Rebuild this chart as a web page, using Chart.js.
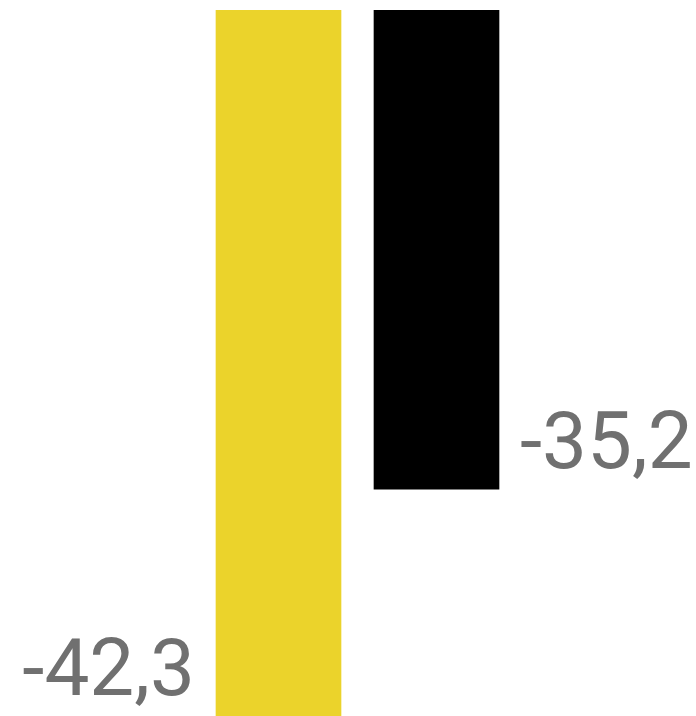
<!DOCTYPE html>
<html>
<head>
<meta charset="utf-8">
<script src="https://cdn.jsdelivr.net/npm/chart.js@4"></script>
<style>
  html, body { margin: 0; padding: 0; background: #ffffff; }
  #wrap { width: 696px; height: 716px; position: relative; }
</style>
</head>
<body>
<div id="wrap"><canvas id="chart"></canvas></div>
<script>
// Two comparison bars, both negative
const categories = ['A', 'B'];
const values = [-42.3, -35.2];
const barColors = ['#EBD32B', '#000000'];
const labelSides = ['left', 'right'];

// Value labels in German decimal notation, drawn at the end of each bar
const valueLabels = {
  id: 'valueLabels',
  afterDatasetsDraw(chart) {
    const ctx = chart.ctx;
    const meta = chart.getDatasetMeta(0);
    ctx.save();
    ctx.font = '80px Roboto, "Liberation Sans", sans-serif';
    ctx.fillStyle = '#707070';
    ctx.textBaseline = 'alphabetic';
    meta.data.forEach((bar, i) => {
      const text = values[i].toFixed(1).replace('.', ',');
      const half = bar.width / 2;
      const y = bar.y - 21;
      if (labelSides[i] === 'left') {
        ctx.textAlign = 'right';
        ctx.fillText(text, bar.x - half - 21, y);
      } else {
        ctx.textAlign = 'left';
        ctx.fillText(text, bar.x + half + 21, y);
      }
    });
    ctx.restore();
  }
};

new Chart(document.getElementById('chart'), {
  type: 'bar',
  data: {
    labels: categories,
    datasets: [{
      data: values,
      backgroundColor: barColors,
      borderWidth: 0,
      barThickness: 125
    }]
  },
  options: {
    responsive: true,
    maintainAspectRatio: false,
    animation: false,
    layout: { padding: { top: 10, bottom: 0, left: 199.5, right: 180.5 } },
    plugins: {
      legend: { display: false },
      tooltip: { enabled: false }
    },
    scales: {
      x: { display: false, offset: true },
      y: { display: false, min: -42.3, max: -20.2 }
    }
  },
  plugins: [valueLabels]
});
</script>
</body>
</html>
